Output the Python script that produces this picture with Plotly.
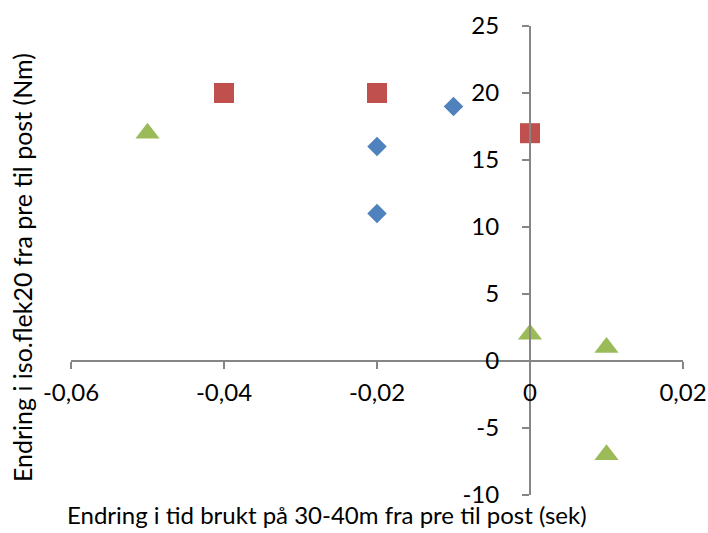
import plotly.graph_objects as go

# Axis ticks and labels (comma as decimal separator)
x_ticks = [-0.06, -0.04, -0.02, 0, 0.02]
x_tick_labels = ["-0,06", "-0,04", "-0,02", "0", "0,02"]
y_ticks = [-10, -5, 0, 5, 10, 15, 20, 25]
y_tick_labels = ["-10", "-5", "0", "5", "10", "15", "20", "25"]

# Series values
blue_x = [-0.02, -0.02, -0.01]
blue_y = [16, 11, 19]
red_x = [-0.04, -0.02, 0.0]
red_y = [20, 20, 17]
green_x = [-0.05, 0.0, 0.01, 0.01]
green_y = [17, 2, 1, -7]

x_range = [-0.06, 0.02]
y_range = [-10, 25]

x_title = "Endring i tid brukt på 30-40m fra pre til post (sek)"
y_title = "Endring i iso.flek20 fra pre til post (Nm)"

FONT = "Lato"
AXIS_GREY = "#868686"

fig = go.Figure()
fig.add_trace(go.Scatter(x=blue_x, y=blue_y, mode="markers",
                         marker=dict(symbol="diamond", size=15, color="#4F81BD")))
fig.add_trace(go.Scatter(x=red_x, y=red_y, mode="markers",
                         marker=dict(symbol="square", size=20, color="#C0504D")))
fig.add_trace(go.Scatter(x=green_x, y=green_y, mode="markers",
                         marker=dict(symbol="triangle-up", size=21, color="#9BBB59")))

# axes cross at the origin
y_axis_pos = (0 - x_range[0]) / (x_range[1] - x_range[0])
x_axis_pos = (0 - y_range[0]) / (y_range[1] - y_range[0])

fig.update_layout(
    width=708, height=533,
    margin=dict(l=71, r=25, t=26, b=38, autoexpand=False),
    paper_bgcolor="white", plot_bgcolor="white",
    showlegend=False,
    font=dict(family=FONT, size=24, color="black"),
    xaxis=dict(range=x_range, tickvals=x_ticks, ticktext=x_tick_labels,
               showgrid=False, zeroline=False, showline=True,
               linecolor=AXIS_GREY, linewidth=2, ticks="outside", ticklen=7,
               tickcolor=AXIS_GREY, tickwidth=2, ticklabelstandoff=3,
               anchor="free", position=x_axis_pos),
    yaxis=dict(range=y_range, tickvals=y_ticks, ticktext=y_tick_labels,
               showgrid=False, zeroline=False, showline=True,
               linecolor=AXIS_GREY, linewidth=2, ticks="outside", ticklen=7,
               tickcolor=AXIS_GREY, tickwidth=2, ticklabelstandoff=18,
               anchor="free", position=y_axis_pos),
    annotations=[
        dict(text=x_title, xref="paper", yref="paper", x=0.418, y=-0.077,
             xanchor="center", yanchor="bottom", showarrow=False,
             font=dict(family=FONT, size=24)),
        dict(text=y_title, xref="paper", yref="paper", x=-0.08, y=0.484,
             xanchor="center", yanchor="middle", showarrow=False, textangle=-90,
             font=dict(family=FONT, size=25)),
    ],
)

fig.write_html("out.html")
